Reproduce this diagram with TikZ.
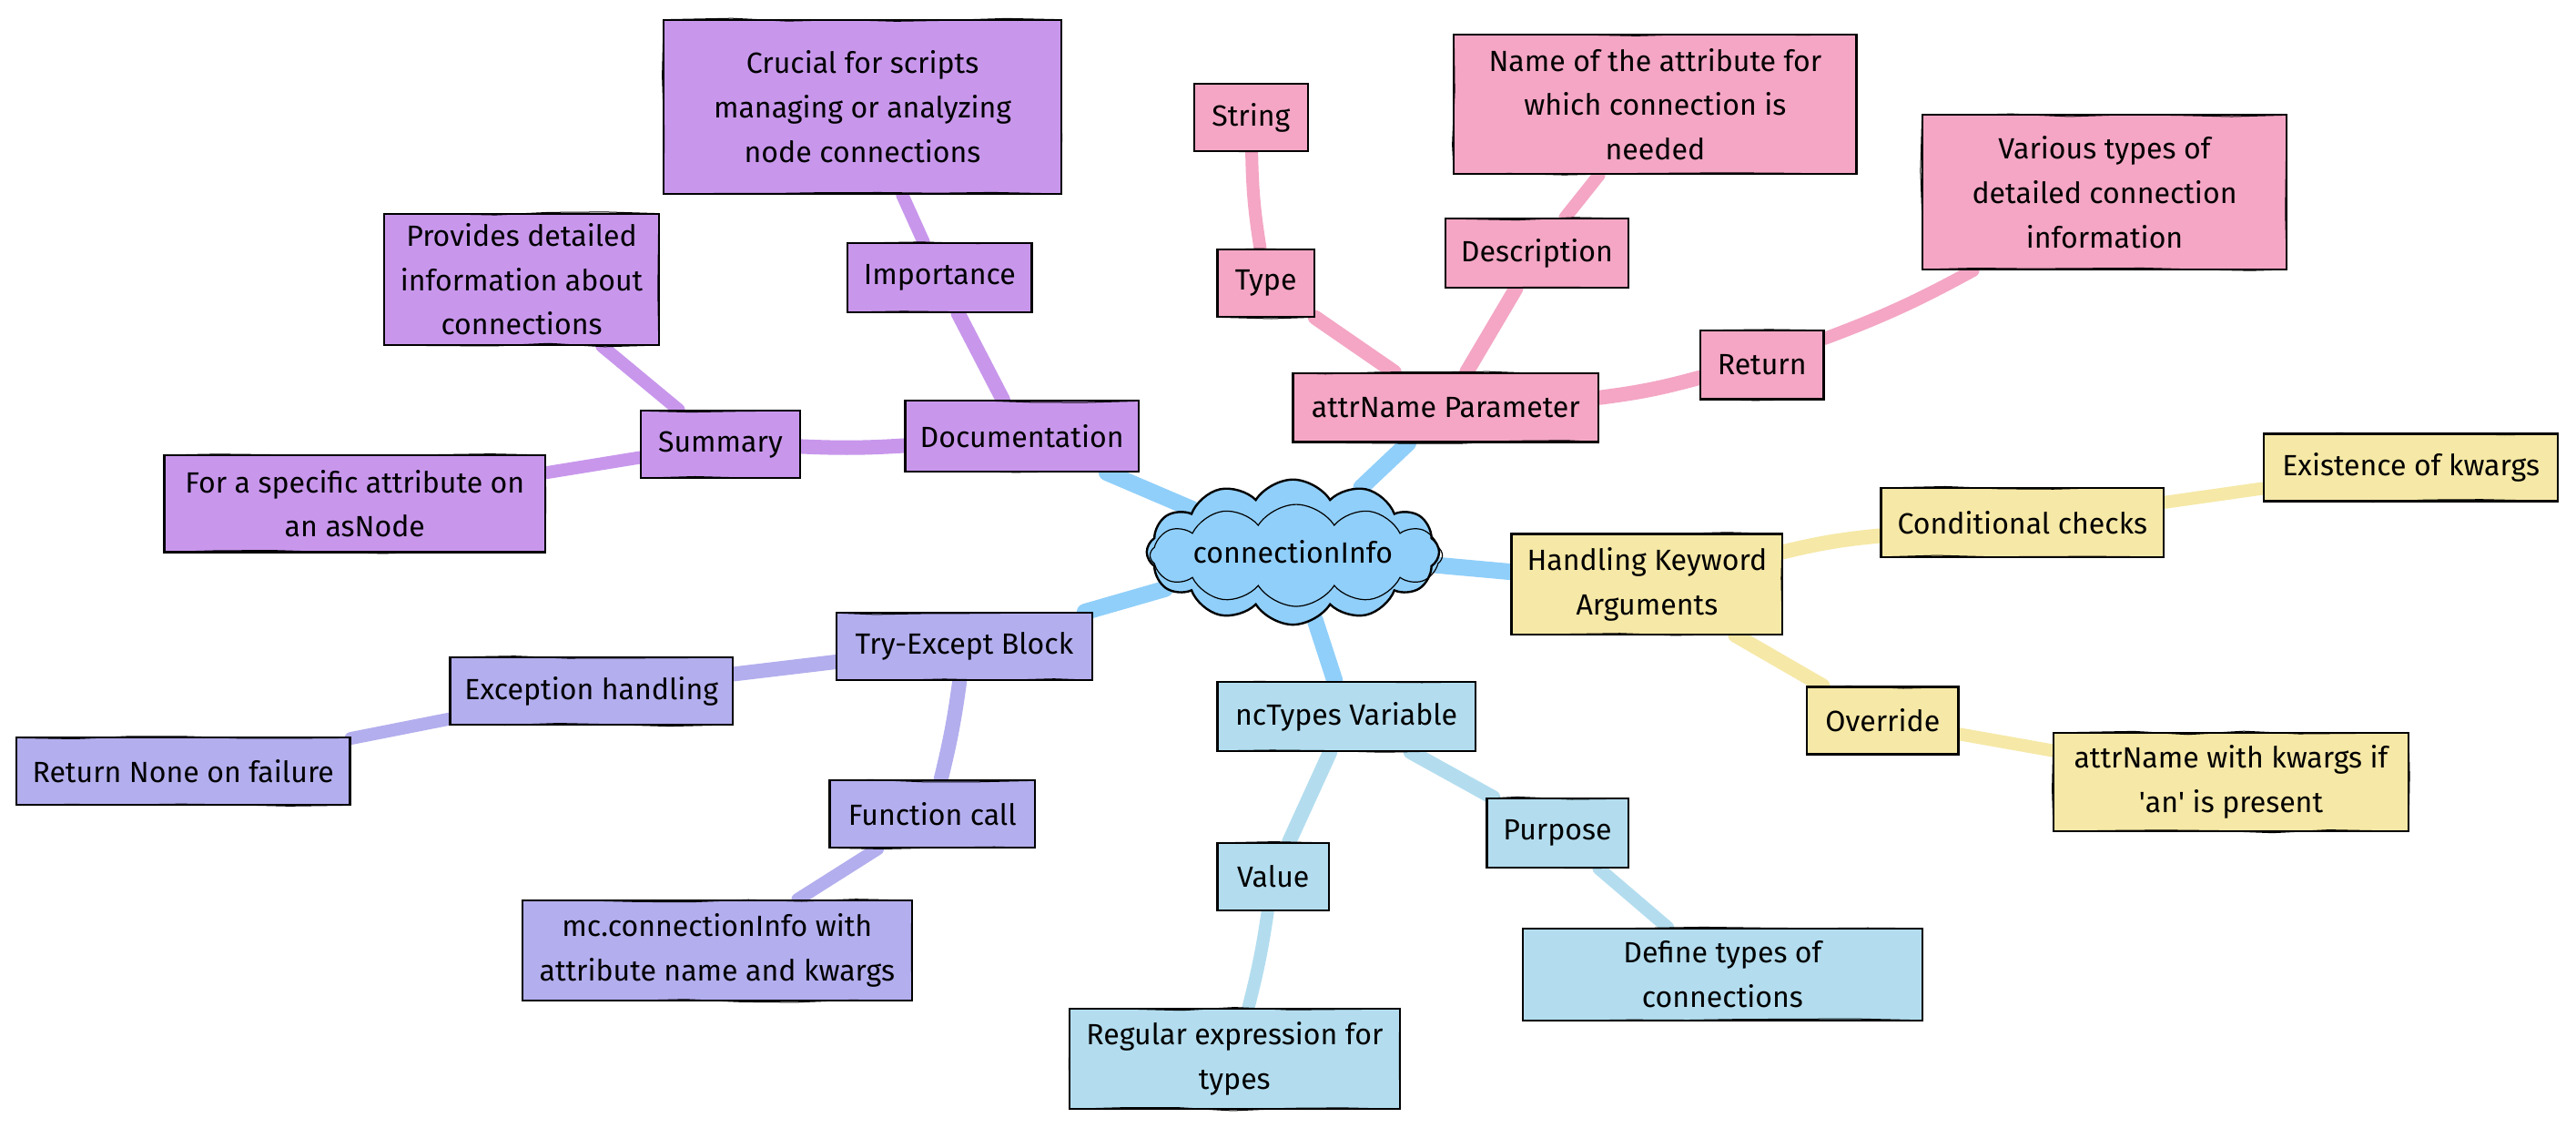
\documentclass[tikz,border=0pt]{standalone}
\usepackage{fontspec}
\setmainfont{Fira Sans}
\usetikzlibrary{shapes.symbols,decorations.pathmorphing}
\definecolor{cP}{RGB}{200,151,236}
\definecolor{cK}{RGB}{244,166,196}
\definecolor{cY}{RGB}{246,232,166}
\definecolor{cS}{RGB}{179,221,239}
\definecolor{cL}{RGB}{179,174,238}
\definecolor{cC}{RGB}{144,207,250}
\pgfdeclarelayer{background}
\pgfsetlayers{background,main}
\tikzset{
  sz/.style 2 args={minimum width=#1*0.9pt, minimum height=#2*0.9pt},
  mbox/.style={rectangle, fill=#1, draw=black, line width=1.1pt, inner sep=0pt,
    align=center, text=black, font=\fontsize{16}{24.3}\selectfont,
    postaction={draw=black, line width=0.5pt, decorate,
      decoration={random steps, segment length=30pt, amplitude=0.9pt}}},
  root/.style={cloud, cloud puffs=12, cloud puff arc=115, aspect=2.6, fill=cC,
    draw=black, line width=1.2pt, inner sep=0pt, text=black,
    font=\fontsize{16}{24.3}\selectfont},
  rootline/.style={cloud, cloud puffs=12, cloud puff arc=115, aspect=2.6,
    draw=black, line width=0.6pt, inner sep=0pt},
  lk/.style={draw=#1, line width=8pt, line cap=round},
  lk1/.style={draw=cC, line width=9pt, line cap=round},
  lk3/.style={draw=#1, line width=7pt, line cap=round},
}
\begin{document}
\begin{tikzpicture}[x=0.9pt, y=-0.9pt]
\pgfmathsetseed{7}
\useasboundingbox (0,0) rectangle (1568,686);

% root
\node[root, sz={178}{62}] (root) at (787,336) {connectionInfo};
\node[rootline, sz={178}{62}] (rootb) at (789,338) {};

% purple branch
\node[mbox=cP, sz={142}{43}] (doc) at (622,265.5) {Documentation};
\node[mbox=cP, sz={112}{42}] (imp) at (572,169) {Importance};
\node[mbox=cP, sz={242}{106}] (cru) at (525,65) {Crucial for scripts\\managing or analyzing\\node connections};
\node[mbox=cP, sz={97}{41}] (sum) at (438.5,270.5) {Summary};
\node[mbox=cP, sz={167}{80}] (pro) at (317.5,170) {Provides detailed\\information about\\connections};
\node[mbox=cP, sz={232}{59}] (spe) at (216,306.5) {For a specific attribute on\\an asNode};

% pink branch
\node[mbox=cK, sz={186}{42}] (att) at (880,248) {attrName Parameter};
\node[mbox=cK, sz={59}{41}] (typ) at (770.5,172.5) {Type};
\node[mbox=cK, sz={69}{41}] (str) at (761.5,71.5) {String};
\node[mbox=cK, sz={111}{42}] (des) at (935.5,154) {Description};
\node[mbox=cK, sz={245}{85}] (nam) at (1007.5,63.5) {Name of the attribute for\\which connection is\\needed};
\node[mbox=cK, sz={75}{42}] (ret) at (1072.5,222) {Return};
\node[mbox=cK, sz={222}{94}] (var) at (1281,117) {Various types of\\detailed connection\\information};

% yellow branch
\node[mbox=cY, sz={165}{61}] (han) at (1002.5,355.5) {Handling Keyword\\Arguments};
\node[mbox=cY, sz={172}{42}] (con) at (1231,318) {Conditional checks};
\node[mbox=cY, sz={179}{41}] (exi) at (1467.5,284.5) {Existence of kwargs};
\node[mbox=cY, sz={92}{41}] (ove) at (1146,438.5) {Override};
\node[mbox=cY, sz={216}{60}] (akw) at (1358,476) {attrName with kwargs if\\\textquotesingle an\textquotesingle{} is present};

% sky branch
\node[mbox=cS, sz={157}{42}] (nct) at (819.5,436) {ncTypes Variable};
\node[mbox=cS, sz={68}{41}] (val) at (775,533.5) {Value};
\node[mbox=cS, sz={201}{61}] (reg) at (751.5,644.5) {Regular expression for\\types};
\node[mbox=cS, sz={86}{42}] (pur) at (948,507) {Purpose};
\node[mbox=cS, sz={243}{56}] (def) at (1048.5,593) {Define types of\\connections};

% lavender branch
\node[mbox=cL, sz={156}{41}] (try) at (587,393.5) {Try-Except Block};
\node[mbox=cL, sz={172}{41}] (exc) at (360,420.5) {Exception handling};
\node[mbox=cL, sz={203}{41}] (rnf) at (111.5,469.5) {Return None on failure};
\node[mbox=cL, sz={125}{41}] (fun) at (567.5,495.5) {Function call};
\node[mbox=cL, sz={237}{61}] (mcc) at (436.5,578.5) {mc.connectionInfo with\\attribute name and kwargs};

\begin{pgfonlayer}{background}
\fill[white] (0,0) rectangle (1568,686);
% level 1
\draw[lk1] (root) -- (doc);
\draw[lk1] (root) -- (att);
\draw[lk1] (root) -- (han);
\draw[lk1] (root) -- (nct);
\draw[lk1] (root) -- (try);
% purple
\draw[lk=cP] (doc) -- (imp);
\draw[lk=cP] (doc) to[bend left=3] (sum);
\draw[lk3=cP] (imp) -- (cru);
\draw[lk3=cP] (sum) -- (pro);
\draw[lk3=cP] (sum) -- (spe);
% pink
\draw[lk=cK] (att) -- (typ);
\draw[lk=cK] (att) -- (des);
\draw[lk=cK] (att) to[bend right=4] (ret);
\draw[lk3=cK] (typ) to[bend left=4] (str);
\draw[lk3=cK] (des) -- (nam);
\draw[lk3=cK] (ret) to[bend right=4] (var);
% yellow
\draw[lk=cY] (han) to[bend left=4] (con);
\draw[lk=cY] (han) -- (ove);
\draw[lk3=cY] (con) -- (exi);
\draw[lk3=cY] (ove) -- (akw);
% sky
\draw[lk=cS] (nct) -- (val);
\draw[lk=cS] (nct) -- (pur);
\draw[lk3=cS] (val) to[bend left=3] (reg);
\draw[lk3=cS] (pur) -- (def);
% lavender
\draw[lk=cL] (try) -- (exc);
\draw[lk=cL] (try) to[bend left=3] (fun);
\draw[lk3=cL] (exc) -- (rnf);
\draw[lk3=cL] (fun) -- (mcc);
\end{pgfonlayer}
\end{tikzpicture}
\end{document}
